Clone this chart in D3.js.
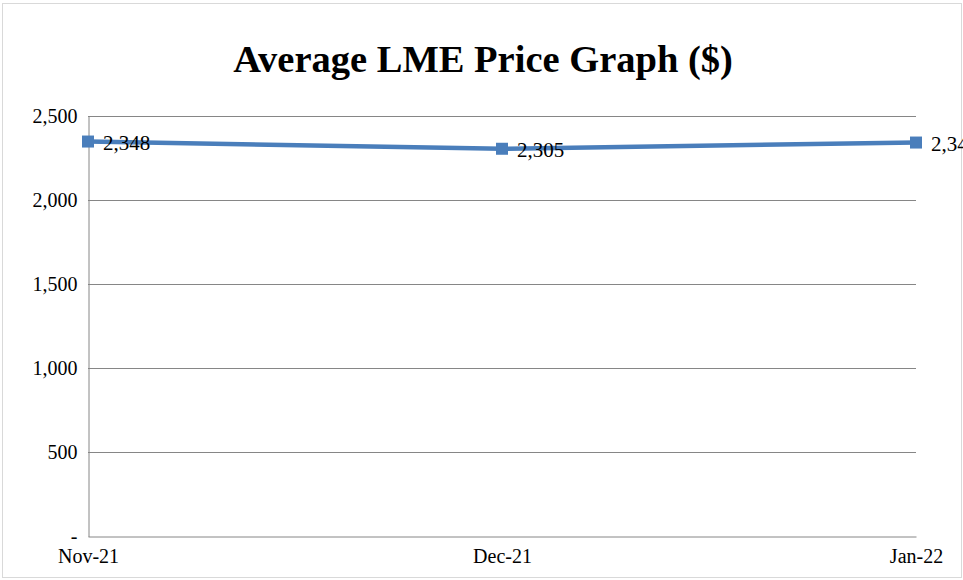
<!DOCTYPE html>
<html>
<head>
<meta charset="utf-8">
<script src="https://cdn.jsdelivr.net/npm/d3@7"></script>
<style>
  body { margin: 0; background: #fff; }
  svg { display: block; font-family: "Liberation Serif", "Times New Roman", serif; }
</style>
</head>
<body>
<svg id="chart" width="963" height="580"></svg>
<script>
// chart data
var months = ['Nov-21', 'Dec-21', 'Jan-22'];
var prices = [2348, 2305, 2342];
var yTicks = [0, 500, 1000, 1500, 2000, 2500];

var svg = d3.select('#chart');
var plotLeft = 88, plotRight = 916, plotTop = 116, plotBottom = 536;

// outer frame
svg.append('rect')
    .attr('x', 2.5).attr('y', 3.5)
    .attr('width', 959).attr('height', 574)
    .attr('fill', 'none')
    .attr('stroke', '#d9d9d9');

var x = d3.scalePoint().domain(months).range([plotLeft, plotRight]);
var y = d3.scaleLinear().domain([0, 2500]).range([plotBottom, plotTop]);

// gridlines
svg.append('g').selectAll('line')
    .data(yTicks.slice(1))
    .enter().append('line')
    .attr('x1', plotLeft).attr('x2', plotRight)
    .attr('y1', function(d){ return y(d) + 0.5; })
    .attr('y2', function(d){ return y(d) + 0.5; })
    .attr('stroke', '#868686');

// y axis
var yAxis = svg.append('g')
    .attr('transform', 'translate(' + (plotLeft + 0.5) + ',0.5)')
    .call(d3.axisLeft(y).tickValues(yTicks).tickSize(0).tickPadding(11)
        .tickFormat(function(d){ return d === 0 ? '-' : d3.format(',')(d); }));
yAxis.select('.domain').attr('stroke', '#868686');
yAxis.selectAll('text').attr('font-size', 20).attr('fill', '#000')
    .attr('font-family', '"Liberation Serif", serif');

// x axis
var xAxis = svg.append('g')
    .attr('transform', 'translate(0,' + (plotBottom + 0.5) + ')')
    .call(d3.axisBottom(x).tickSize(0).tickPadding(12));
xAxis.select('.domain').attr('stroke', '#868686');
xAxis.selectAll('text').attr('font-size', 20).attr('fill', '#000')
    .attr('font-family', '"Liberation Serif", serif');

// line
var line = d3.line()
    .x(function(d, i){ return x(months[i]); })
    .y(function(d){ return y(d); });
svg.append('path')
    .datum(prices)
    .attr('d', line)
    .attr('fill', 'none')
    .attr('stroke', '#4a7ebb')
    .attr('stroke-width', 4.5);

// markers
svg.selectAll('.marker')
    .data(prices)
    .enter().append('rect')
    .attr('class', 'marker')
    .attr('x', function(d, i){ return x(months[i]) - 6; })
    .attr('y', function(d){ return y(d) - 6; })
    .attr('width', 12).attr('height', 12)
    .attr('fill', '#4a7ebb');

// data labels
svg.selectAll('.lbl')
    .data(prices)
    .enter().append('text')
    .attr('class', 'lbl')
    .attr('x', function(d, i){ return x(months[i]) + 15; })
    .attr('y', function(d){ return y(d) + 8.5; })
    .attr('font-size', 21)
    .text(function(d){ return d3.format(',')(d); });

// title
svg.append('text')
    .attr('x', 483).attr('y', 72)
    .attr('text-anchor', 'middle')
    .attr('font-size', 38.5)
    .attr('font-weight', 'bold')
    .text('Average LME Price Graph ($)');
</script>
</body>
</html>
